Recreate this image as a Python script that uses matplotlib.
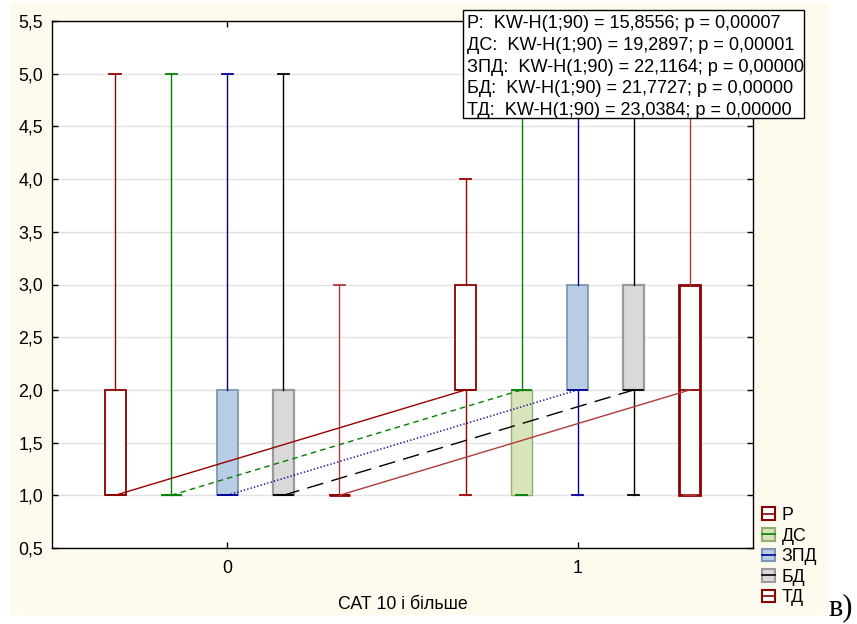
import matplotlib.pyplot as plt
from matplotlib.patches import Rectangle, Patch
from matplotlib.lines import Line2D
from matplotlib.ticker import FuncFormatter, MultipleLocator

plt.rcParams['font.family'] = ['Liberation Sans', 'DejaVu Sans']

# groups on the x axis
groups = [0, 1]
series = ["Р", "ДС", "ЗПД", "БД", "ТД"]

# per series, per group: whisker low, q1, median, q3, whisker high
whislo = {"Р": [1, 1], "ДС": [1, 1], "ЗПД": [1, 1], "БД": [1, 1], "ТД": [1, 1]}
q1 = {"Р": [1, 2], "ДС": [1, 1], "ЗПД": [1, 2], "БД": [1, 2], "ТД": [1, 1]}
med = {"Р": [1, 2], "ДС": [1, 2], "ЗПД": [1, 2], "БД": [1, 2], "ТД": [1, 2]}
q3 = {"Р": [2, 3], "ДС": [1, 2], "ЗПД": [2, 3], "БД": [2, 3], "ТД": [1, 3]}
whishi = {"Р": [5, 4], "ДС": [5, 5], "ЗПД": [5, 5], "БД": [5, 5], "ТД": [3, 5]}

stats_text = [
    "Р:  KW-H(1;90) = 15,8556; p = 0,00007",
    "ДС:  KW-H(1;90) = 19,2897; p = 0,00001",
    "ЗПД:  KW-H(1;90) = 22,1164; p = 0,00000",
    "БД:  KW-H(1;90) = 21,7727; p = 0,00000",
    "ТД:  KW-H(1;90) = 23,0384; p = 0,00000",
]

FS = 12.8
W, H = 857, 624

offsets = [-0.32, -0.16, 0.0, 0.16, 0.32]
styles = {
    "Р": dict(face="white", edge="#8b0000", ew=1.3, line="#990000", med="#8b0000", ls="-"),
    "ДС": dict(face="#d8e4bc", edge="#8fb070", ew=1.0, line="#008000", med="#008000", ls=(0, (4, 3))),
    "ЗПД": dict(face="#b8cce4", edge="#7f96b2", ew=1.3, line="#000099", med="#000099", ls=(0, (1, 1.5))),
    "БД": dict(face="#d9d9d9", edge="#9a9a9a", ew=1.6, line="#000000", med="#000000", ls=(0, (12, 6))),
    "ТД": dict(face="white", edge="#8b0000", ew=2.0, line="#b03a3a", med="#8b0000", ls="-"),
}

fig = plt.figure(figsize=(W / 100, H / 100), dpi=100)
fig.patches.append(Rectangle((10 / W, 1 - 615 / H), 818 / W, 612 / H,
                             transform=fig.transFigure, facecolor="#fefaee",
                             edgecolor="none", zorder=-10))
ax = fig.add_axes([52 / W, 1 - 548 / H, 701 / W, 527 / H])
ax.set_facecolor("white")

for name, off in zip(series, offsets):
    st = styles[name]
    bstats = []
    for i, g in enumerate(groups):
        bstats.append(dict(whislo=whislo[name][i], q1=q1[name][i], med=med[name][i],
                           q3=q3[name][i], whishi=whishi[name][i], fliers=[]))
    pos = [g + off for g in groups]
    ax.bxp(bstats, positions=pos, widths=0.06, capwidths=0.032, patch_artist=True,
           showfliers=False, manage_ticks=False,
           boxprops=dict(facecolor=st["face"], edgecolor=st["edge"], linewidth=st["ew"]),
           medianprops=dict(color=st["med"], linewidth=1.3),
           whiskerprops=dict(color=st["line"], linewidth=1.0),
           capprops=dict(color=st["line"], linewidth=1.3))
    ax.plot(pos, med[name], color=st["line"], linestyle=st["ls"], linewidth=1.0, zorder=3)

ax.set_xlim(-0.5, 1.5)
ax.set_ylim(0.5, 5.5)
ax.set_xticks(groups)
ax.yaxis.set_major_locator(MultipleLocator(0.5))
ax.yaxis.set_major_formatter(FuncFormatter(lambda v, p: f"{v:.1f}".replace(".", ",")))
ax.grid(axis="y", color="#e2e2e2", linewidth=1.0)
ax.set_axisbelow(True)
ax.tick_params(direction="in", top=True, right=True, labelsize=FS, length=4, width=1)
ax.tick_params(axis="x", pad=8.5)
ax.tick_params(axis="y", pad=6.5)
for sp in ax.spines.values():
    sp.set_linewidth(1.0)
ax.set_xlabel("САТ 10 і більше", fontsize=FS, labelpad=14)

# statistics box
fig.patches.append(Rectangle((463 / W, 1 - 118 / H), 341 / W, 108 / H,
                             transform=fig.transFigure, facecolor="white",
                             edgecolor="black", linewidth=1.0, zorder=5))
for i, line in enumerate(stats_text):
    fig.text(467 / W, 1 - (28 + 21.75 * i) / H, line, fontsize=13.1,
             va="baseline", ha="left", zorder=6)

handles = []
for name in series:
    st = styles[name]
    handles.append((Patch(facecolor=st["face"], edgecolor=st["edge"], linewidth=1.5),
                    Line2D([], [], color=st["med"], linewidth=1.2)))
fig.legend(handles, series, loc="upper left", bbox_to_anchor=(762 / W, 1 - 507 / H),
           frameon=False, fontsize=FS, handlelength=0.72, handleheight=0.72,
           handletextpad=0.38, labelspacing=0.2, borderaxespad=0, borderpad=0)

fig.text(828 / W, 1 - 615 / H, "в)", family="Liberation Serif", fontsize=22,
         ha="left", va="baseline")

fig.savefig("out.png", dpi=100)
